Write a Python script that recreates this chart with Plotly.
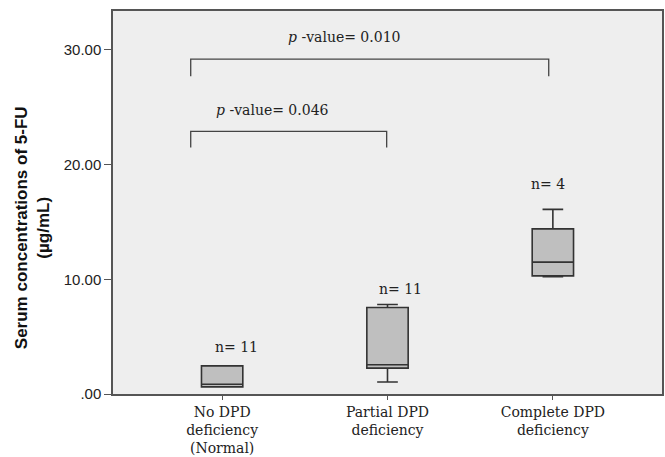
import plotly.graph_objects as go

# Data
categories = ["No DPD<br>deficiency<br>(Normal)", "Partial DPD<br>deficiency", "Complete DPD<br>deficiency"]
cat_pos = [0, 1, 2]
q1 = [0.62, 2.26, 10.3]
median = [0.85, 2.55, 11.5]
q3 = [2.45, 7.54, 14.4]
lower_fence = [0.62, 1.05, 10.22]
upper_fence = [2.45, 7.8, 16.1]
n_labels = ["n= 11", "n= 11", "n= 4"]
y_ticks = [0, 10, 20, 30]
y_ticktext = [".00", "10.00", "20.00", "30.00"]
y_title = "<b>Serum concentrations of 5-FU<br>(µg/mL)</b>"

# comparison brackets
bracket_x0 = [-0.19, -0.19]
bracket_x1 = [1.975, 0.995]
bracket_y = [29.2, 22.9]
bracket_yb = [27.7, 21.5]
p_labels = ["<i>p</i> -value= 0.010", "<i>p</i> -value= 0.046"]
p_label_x = [0.735, 0.305]
p_label_y = [31.1, 24.8]
n_label_x = [0.085, 1.08, 1.97]
n_label_y = [4.1, 9.2, 18.3]

serif = "DejaVu Serif"

fig = go.Figure()
fig.add_trace(go.Box(
    x=cat_pos, q1=q1, median=median, q3=q3,
    lowerfence=lower_fence, upperfence=upper_fence,
    width=0.25, whiskerwidth=0.5,
    fillcolor="#bfbfbf", line=dict(color="#333333", width=1.6),
    boxpoints=False, showlegend=False, hoverinfo="skip",
))

shapes = []
for x0, x1, y, yb in zip(bracket_x0, bracket_x1, bracket_y, bracket_yb):
    shapes.append(dict(type="path", xref="x", yref="y",
                       path=f"M {x0},{yb} L {x0},{y} L {x1},{y} L {x1},{yb}",
                       line=dict(color="#444444", width=1.3)))

annotations = []
for t, x, y in zip(p_labels, p_label_x, p_label_y):
    annotations.append(dict(x=x, y=y, xref="x", yref="y", text=t, showarrow=False,
                            font=dict(family=serif, size=14, color="#222222")))
for t, x, y in zip(n_labels, n_label_x, n_label_y):
    annotations.append(dict(x=x, y=y, xref="x", yref="y", text=t, showarrow=False,
                            font=dict(family=serif, size=14, color="#222222")))
annotations.append(dict(x=-0.1475, y=0.433, xref="paper", yref="paper", text=y_title,
                        textangle=-90, showarrow=False, xanchor="center", yanchor="middle",
                        font=dict(family="Liberation Sans", size=17, color="#111111")))

fig.update_layout(
    width=665, height=457,
    margin=dict(l=113, r=3, t=11, b=63),
    paper_bgcolor="white", plot_bgcolor="#eeeeee",
    shapes=shapes, annotations=annotations,
    xaxis=dict(range=[-0.66, 2.66], tickvals=cat_pos, ticktext=categories,
               automargin=False,
               showgrid=False, zeroline=False, showline=True, mirror=True,
               linecolor="#555555", linewidth=1.5, ticks="outside", ticklen=4,
               tickcolor="#555555",
               tickfont=dict(family=serif, size=14, color="#222222")),
    yaxis=dict(range=[0, 33.4], tickvals=y_ticks, ticktext=y_ticktext,
               automargin=False,
               showgrid=False, zeroline=False, showline=True, mirror=True,
               linecolor="#555555", linewidth=1.5, ticks="outside", ticklen=7,
               tickcolor="#555555",
               tickfont=dict(family="Liberation Sans", size=15, color="#222222")),
)

fig.write_html(
    "out.html",
    config={"displayModeBar": False},
    post_script="document.body.style.margin='0';document.body.style.overflow='hidden';",
)
